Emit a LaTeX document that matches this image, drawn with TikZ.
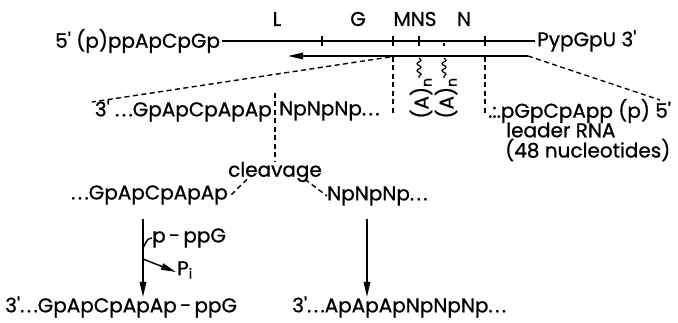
\documentclass[tikz,border=0pt]{standalone}
\usepackage{fontspec}
\setmainfont{Poppins}[FakeBold=0.8]
\usetikzlibrary{arrows.meta,decorations.pathmorphing}
\newcommand{\dd}{.\kern2.5pt.\kern2.5pt.}
\newcommand{\pr}{\textquotesingle}
\begin{document}
\begin{tikzpicture}[x=1pt,y=-1pt,
  txt/.style={inner sep=0pt,font=\fontsize{20}{22}\selectfont},
  solid line/.style={line width=1.7pt},
  dash line/.style={line width=1.4pt,dash pattern=on 5pt off 3.5pt},
  tip/.style={-{Triangle[length=15pt,width=6.5pt]}},
  wave/.style={line width=1.2pt,decorate,decoration={snake,amplitude=2pt,segment length=7pt}}]
\useasboundingbox (0,0) rectangle (678,323);
% top row
\node[txt,anchor=west] (t5) at (55,41) {5\pr{} (p)ppApCpGp};
\node[txt,anchor=west] (t3) at (537,41) {PypGpU 3\pr};
\draw[solid line] (t5.east) ++(2,0) -- ([xshift=-2pt]t3.west);
\foreach \x in {322,393,419,485} \draw[line width=1.5pt] (\x,36) -- (\x,46);
\draw[line width=1.5pt] (444,43) -- (444,46);
\node[txt] (lL) at (277,19) {L};
\node[txt] (lG) at (358,19) {G};
\node[txt] (lMNS) at (415,19) {MNS};
\node[txt] (lN) at (464,19) {N};
% arrow line
\coordinate (ar) at (528,56);
\coordinate (al) at (288,56);
\draw[solid line,tip] (ar) -- (al);
% dashed to middle row
\coordinate (dl) at (390,57);
\coordinate (dlend) at (92,102);
\draw[dash line] (dl) -- (dlend);
\coordinate (drend) at (660,100);
\draw[dash line] (ar) -- (drend);
\coordinate (v1) at (393,57);
\coordinate (v1e) at (393,116);
\coordinate (v2) at (485,57);
\coordinate (v2e) at (485,116);
\draw[dash line] (v1) -- (v1e);
\draw[dash line] (v2) -- (v2e);
% wavy and (A)n
\coordinate (w1) at (419,58);
\coordinate (w1e) at (419,78);
\coordinate (w2) at (444,58);
\coordinate (w2e) at (444,78);
\draw[wave] (w1) -- (w1e);
\draw[wave] (w2) -- (w2e);
\node[txt,rotate=90] (an1) at (421,98) {(A)\textsubscript{n}};
\node[txt,rotate=90] (an2) at (446,98) {(A)\textsubscript{n}};
% middle row
\node[txt,anchor=east] (m1) at (272,111) {3\pr{} \dd GpApCpApAp};
\node[txt,anchor=west] (m2) at (279,111) {NpNpNp\dd};
\node[txt,anchor=west] (m3) at (488,111) {.:.pGpCpApp (p) 5\pr};
\node[txt,anchor=west] (m4) at (506,130) {leader RNA};
\node[txt,anchor=west] (m5) at (505,150) {(48 nucleotides)};
\coordinate (cv) at (275,93);
\node[txt] (clv) at (275,172) {cleavage};
\draw[dash line] (cv) -- (clv.north);
% split
\node[txt,anchor=east] (s1) at (228,195) {\dd GpApCpApAp};
\node[txt,anchor=west] (s2) at (327,196) {NpNpNp\dd};
\draw[dash line] ([xshift=-28pt,yshift=3pt]clv.south) -- ([xshift=3pt]s1.east);
\draw[dash line] ([xshift=30pt,yshift=3pt]clv.south) -- (s2.west);
% bottom
\node[txt,anchor=west] (b1) at (5,307) {3\pr\dd GpApCpApAp\,-\,ppG};
\node[txt,anchor=west] (b2) at (292,307) {3\pr\dd ApApApNpNpNp\dd};
\coordinate (la) at (143,219);
\coordinate (lb) at (143,297);
\draw[solid line,tip] (la) -- (lb);
\coordinate (ra) at (367,219);
\coordinate (rb) at (367,297);
\draw[solid line,tip] (ra) -- (rb);
% side branches
\node[txt,anchor=west] (pppg) at (152,238) {p\,-\,ppG};
\node[txt,anchor=west] (pi) at (177,270) {P\textsubscript{i}};
\coordinate (br1) at (143,248);
\draw[line width=1.4pt] (br1) to[out=60,in=180] (pppg.west);
\coordinate (br2) at (143,259);
\draw[line width=1.5pt,tip] (br2) -- ([xshift=-1pt,yshift=-2pt]pi.west);
\end{tikzpicture}
\end{document}
